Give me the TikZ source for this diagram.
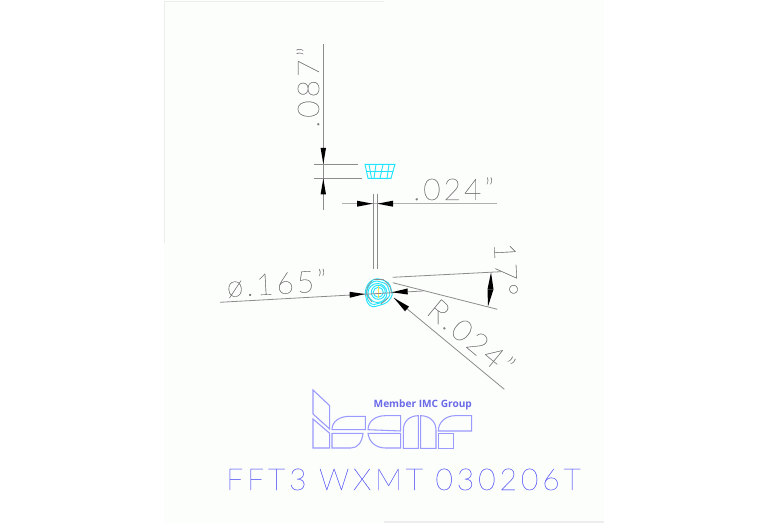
\documentclass[tikz,border=0pt]{standalone}
\usepackage{fontspec}
\setmainfont{Lato Hairline}[LetterSpace=10,FakeBold=0.35]
\newfontfamily\titlefont{Lato Hairline}[LetterSpace=12.9,FakeBold=0.35]
\newfontfamily\logofont{Open Sans}
\definecolor{panel}{HTML}{FCFEFC}
\definecolor{dimgray}{HTML}{8C8C8C}
\definecolor{texgray}{HTML}{7A7A7A}
\definecolor{cyanline}{HTML}{22E4FF}
\definecolor{logoblue}{HTML}{9A9AFF}
\definecolor{titleblue}{HTML}{6A6AF8}
\definecolor{memberblue}{HTML}{6A6AE8}
\definecolor{edgegray}{HTML}{EDEDED}
\tikzset{
  dimline/.style={draw=dimgray,line width=0.6pt},
  dimthick/.style={draw=dimgray!70,line width=1.1pt},
  arrowhead/.style={fill=black,draw=none},
  insert/.style={draw=cyanline,line width=0.7pt},
  logo/.style={draw=logoblue,line width=0.8pt},
  dimtext/.style={text=texgray,font=\fontsize{22.5}{22.5}\selectfont,inner sep=0pt},
}
\begin{document}
\begin{tikzpicture}[x=0.75pt,y=-0.75pt]
\useasboundingbox (0,0) rectangle (767,523);
\fill[white] (0,0) rectangle (767,523);
\fill[panel] (164,0) rectangle (604,523);
\draw[edgegray,line width=0.5pt] (164,243) -- (164,1) -- (384,1);
\draw[edgegray,line width=0.8pt] (384,522) -- (604,522);
% dim .087
\coordinate (a1) at (323.3,44); \coordinate (a2) at (323.3,210);
\draw[dimline] (a1) -- (a2);
\draw[dimline] (314,164.3) -- (358,164.3);
\draw[dimline] (314,178.3) -- (362,178.3);
\fill[arrowhead] (323.3,164) -- (320.6,148) -- (326,148) -- cycle;
\fill[arrowhead] (323.3,178.5) -- (320.6,194.5) -- (326,194.5) -- cycle;
\node[dimtext,rotate=90,anchor=base west] (t087) at (319,128) {.087”};
% insert side
\draw[insert] (365,164.3) -- (395,164.3) -- (391,178.3) -- (368,178.3) -- cycle;
\draw[insert] (366.5,171) -- (393,171);
\draw[insert] (369,164.3) -- (371.5,178.3) (376,164.3) -- (374,178.3) (383,164.3) -- (380,178.3) (389,164.3) -- (387,178.3);
% dim .024
\draw[dimthick] (342,203.7) -- (497,203.7);
\fill[arrowhead] (372.7,203.7) -- (357,200.7) -- (357,206.7) -- cycle;
\fill[arrowhead] (377.3,203.7) -- (393,200.7) -- (393,206.7) -- cycle;
\draw[dimline] (373,194) -- (373,269) (377.5,194) -- (377.5,269);
\node[dimtext,anchor=base west] (t024) at (413,200) {.024”};
% front view
\draw[insert] (378.3,292.3) circle (5);
\draw[insert] (378.3,292.3) circle (7);
\draw[insert] (377.5,293) circle (9.5);
\draw[insert,rounded corners=2.5pt] (377,278) -- (389,282.5) -- (393,295) -- (387,303) -- (372,307.5) -- (367,303) -- (364.8,291) -- (369,282) -- cycle;
\draw[insert,rounded corners=2pt] (376,280.5) -- (387,284) -- (390.5,295) -- (384,302) -- (372,305) -- (367.5,300) -- (366.5,291) -- (370,283.5) -- cycle;
\draw[dimgray,line width=0.5pt] (374,279.3) -- (383,279.3);
\draw[dimgray,line width=0.5pt,rounded corners=2pt] (383,279.3) -- (390,286) -- (391.5,293) (388,298) -- (381,304) (372,302) -- (366.5,295) -- (367,287) -- (372,281);
\draw[yellow!70!orange!70,line width=0.45pt] (378.3,286) -- (378.3,298.5);
\draw[dimline] (220,302.3) -- (423,291);
\fill[arrowhead] (365,294) -- (349.5,291.8) -- (349.8,297.8) -- cycle;
\fill[arrowhead] (391.7,292.3) -- (407.5,288.5) -- (407.8,294.5) -- cycle;
\node[dimtext,rotate=3.3,anchor=base west] (t165) at (227,297) {ø.165”};
% 17 deg
\draw[dimline] (392.7,277.3) -- (501,271.7);
\draw[dimline] (392.7,282.7) -- (497.3,309.3);
\fill[arrowhead] (491,272.3) -- (487.5,289.3) -- (493.5,289.3) -- cycle;
\fill[arrowhead] (488,306.5) -- (487.5,289.3) -- (493.5,289.3) -- cycle;
\node[dimtext,rotate=-87,anchor=base west] (t17) at (494,243) {17°};
% R
\draw[dimline] (394,298) -- (504.3,389.3);
\fill[arrowhead] (394,298) -- (409,306.6) -- (405,311.3) -- cycle;
\node[dimtext,rotate=-39.6,anchor=base west] (tR) at (425,313.3) {R.024”};
% logo
\draw[logo] (313,390) -- (329.7,405.7) -- (329.7,429) -- (313,414) -- cycle;
\draw[logo] (313,419) -- (329.7,433.3) -- (329.7,448) -- (313,448) -- cycle;
\draw[logo] (332,429.7) .. controls (332,421) and (340,416.3) .. (349.7,416.3) -- (365.3,416.3) -- (365.3,429.7) -- cycle;
\draw[logo] (332,433.3) -- (363,433.3) .. controls (362,442) and (358,448) .. (351,448) -- (332,448) -- cycle;
\draw[logo] (368,429.7) .. controls (368,421) and (376,415.7) .. (385,415.7) -- (400.7,415.7) -- (400.7,431) -- cycle;
\draw[logo] (368,433.3) -- (400.7,433.3) -- (400.7,448) -- (385.3,448) .. controls (376,448) and (369,442) .. (368,433.3) -- cycle;
\draw[logo] (403.3,448.3) -- (403.3,430) .. controls (403.3,421) and (410,415.7) .. (418.3,415.7) -- (418.3,448.3) -- cycle;
\draw[logo] (420.7,415.7) .. controls (429,415.7) and (436,421) .. (436,430) -- (436,448.3) -- (420.7,448.3) -- cycle;
\draw[logo] (438.3,431) .. controls (438.3,422) and (446,415.7) .. (455,415.7) -- (471.7,415.7) -- (471.7,431) -- cycle;
\draw[logo] (438.3,433.3) rectangle (453.3,448.3);
\node[text=memberblue,font=\logofont\bfseries\fontsize{7.6}{7.6}\selectfont,inner sep=0pt] (member) at (422.8,405) {Member IMC Group};
% title
\node[text=titleblue,font=\titlefont\fontsize{22.6}{22.6}\selectfont,inner sep=0pt,anchor=base west] (title) at (226,490) {FFT3 WXMT 030206T};
\end{tikzpicture}
\end{document}
